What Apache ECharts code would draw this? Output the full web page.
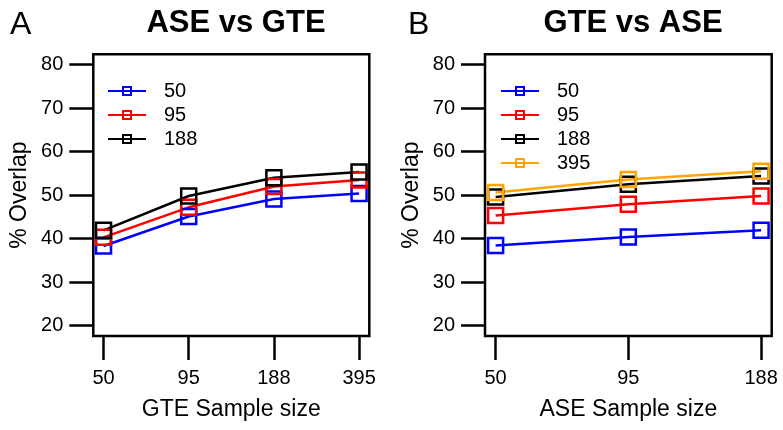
<!DOCTYPE html>
<html><head><meta charset="utf-8">
<script src="https://cdn.jsdelivr.net/npm/echarts@6/dist/echarts.min.js"></script>
<style>html,body{margin:0;padding:0;background:#fff}#c{width:783px;height:430px}</style>
</head><body><div id="c"></div>
<script>
const leftCategories = ['50', '95', '188', '395'];
const leftBlue = [38.3, 45.1, 49.1, 50.4];
const leftRed = [40.3, 47.2, 52.0, 53.5];
const leftBlack = [41.9, 49.8, 54.0, 55.3];

const rightCategories = ['50', '95', '188'];
const rightBlue = [38.4, 40.4, 41.9];
const rightRed = [45.3, 47.9, 49.8];
const rightBlack = [49.6, 52.5, 54.4];
const rightOrange = [50.6, 53.6, 55.5];

const yTicks = [20, 30, 40, 50, 60, 70, 80];
const legendLeft = ['50', '95', '188'];
const legendRight = ['50', '95', '188', '395'];

const FONT = '"Liberation Sans", Arial, Helvetica, sans-serif';
const chart = echarts.init(document.getElementById('c'), null, {renderer: 'canvas'});

function xAxis(gi, cats, name) {
  const n = cats.length;
  const ext = (n - 1) * 0.04;
  const idx = cats.map((c, i) => i + 1);
  return {
    type: 'value', gridIndex: gi, min: 1 - ext, max: n + ext,
    name: name, nameLocation: 'middle', nameGap: 62,
    nameTextStyle: {fontFamily: FONT, fontSize: 23, color: '#000'},
    axisLine: {show: false}, splitLine: {show: false},
    axisTick: {show: true, length: 24, lineStyle: {color: '#000', width: 2.5}, customValues: idx},
    axisLabel: {show: true, margin: 32, fontFamily: FONT, fontSize: 20, color: '#000', customValues: idx,
      formatter: v => cats[Math.round(v) - 1]}
  };
}
function yAxis(gi) {
  return {
    type: 'value', gridIndex: gi, min: 17.6, max: 82.4,
    name: '% Overlap', nameLocation: 'middle', nameGap: 62,
    nameTextStyle: {fontFamily: FONT, fontSize: 23, color: '#000'},
    axisLine: {show: false}, splitLine: {show: false},
    axisTick: {show: true, length: 24, lineStyle: {color: '#000', width: 2.5}, customValues: yTicks},
    axisLabel: {show: true, margin: 30, fontFamily: FONT, fontSize: 20, color: '#000', customValues: yTicks}
  };
}
function ser(prefix, label, data, color, gi) {
  return {
    name: prefix + '|' + label, type: 'line', xAxisIndex: gi, yAxisIndex: gi,
    data: data.map((v, i) => [i + 1, v]),
    symbol: 'rect', symbolSize: 15,
    lineStyle: {color: color, width: 2.5},
    itemStyle: {color: 'rgba(255,255,255,0)', borderColor: color, borderWidth: 2.5},
    emphasis: {disabled: true}, animation: false
  };
}
function legend(prefix, names, left) {
  return {
    left: left, top: 76, orient: 'vertical', itemWidth: 38, itemHeight: 10, itemGap: 4,
    data: names.map(n => prefix + '|' + n), selectedMode: false,
    formatter: n => n.split('|')[1],
    textStyle: {fontFamily: FONT, fontSize: 20, color: '#000', padding: [0, 0, 0, 13]}
  };
}
const option = {
  animation: false,
  backgroundColor: '#fff',
  title: [
    {text: 'ASE vs GTE', left: 231, top: 3, textAlign: 'center', textStyle: {fontFamily: FONT, fontSize: 31, fontWeight: 'bold', color: '#000'}},
    {text: 'GTE vs ASE', left: 628, top: 3, textAlign: 'center', textStyle: {fontFamily: FONT, fontSize: 31, fontWeight: 'bold', color: '#000'}},
    {text: 'A', left: 5, top: 4, textStyle: {fontFamily: FONT, fontSize: 32, fontWeight: 'normal', color: '#000'}},
    {text: 'B', left: 403, top: 4, textStyle: {fontFamily: FONT, fontSize: 32, fontWeight: 'normal', color: '#000'}}
  ],
  grid: [
    {left: 93.3, top: 54.3, width: 276, height: 281.7, show: true, borderColor: '#000', borderWidth: 2.5, backgroundColor: 'transparent'},
    {left: 485, top: 54.3, width: 286.7, height: 281.7, show: true, borderColor: '#000', borderWidth: 2.5, backgroundColor: 'transparent'}
  ],
  xAxis: [xAxis(0, leftCategories, 'GTE Sample size'), xAxis(1, rightCategories, 'ASE Sample size')],
  yAxis: [yAxis(0), yAxis(1)],
  legend: [legend('A', legendLeft, 102), legend('B', legendRight, 495)],
  series: [
    ser('A', '50', leftBlue, '#0000FF', 0),
    ser('A', '95', leftRed, '#FF0000', 0),
    ser('A', '188', leftBlack, '#000000', 0),
    ser('B', '50', rightBlue, '#0000FF', 1),
    ser('B', '95', rightRed, '#FF0000', 1),
    ser('B', '188', rightBlack, '#000000', 1),
    ser('B', '395', rightOrange, '#FFA500', 1)
  ]
};
chart.setOption(option);
</script></body></html>
